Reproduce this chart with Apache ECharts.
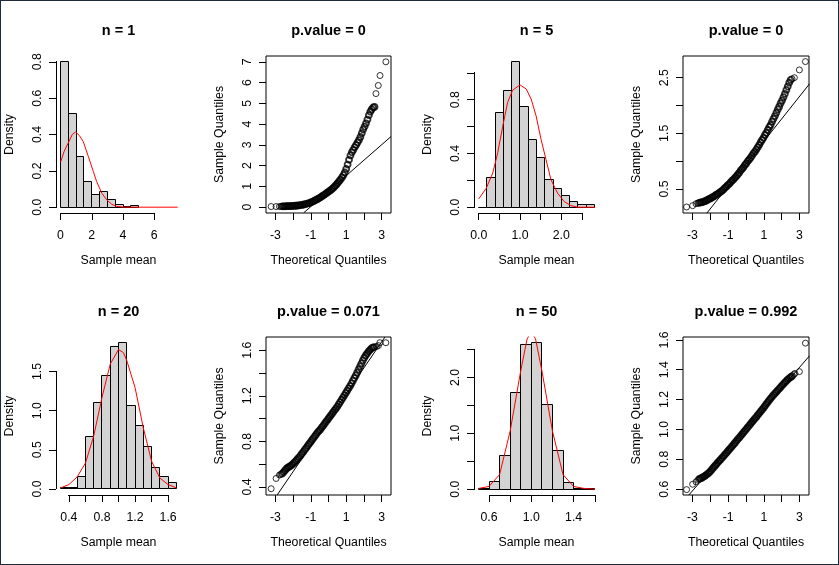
<!DOCTYPE html>
<html>
<head>
<meta charset="utf-8">
<script src="https://cdn.jsdelivr.net/npm/echarts@6/dist/echarts.min.js"></script>
<style>
  html, body { margin: 0; padding: 0; background: #fff; }
  #chart { width: 839px; height: 565px; }
  #frame { position: absolute; left: 0; top: 0; width: 837px; height: 563px; border: 1px solid #1d2b3a; pointer-events: none; }
</style>
</head>
<body>
<div id="chart"></div>
<div id="frame"></div>
<script>
// ---- n = 1 ----
const h1Breaks = [0, 0.5, 1, 1.5, 2, 2.5, 3, 3.5, 4, 4.5, 5];
const h1Density = [0.80, 0.513, 0.281, 0.140, 0.072, 0.084, 0.040, 0.016, 0.006, 0.011];
const c1X = [0, 0.23, 0.49, 0.75, 0.96, 1.2, 1.45, 1.78, 2.10, 2.31, 2.64, 2.96, 3.28, 3.6, 4.0, 5, 7.5];
const c1Y = [0.248, 0.307, 0.353, 0.40, 0.414, 0.395, 0.362, 0.279, 0.196, 0.141, 0.077, 0.040, 0.016, 0.004, 0.001, 0, 0];
const q1Theo = [-3.24, -2.96, -2.77, -2.68,
  -2.6, -2.52, -2.44, -2.36, -2.28, -2.2, -2.12, -2.04, -1.96, -1.88,
  -1.8, -1.72, -1.64, -1.56, -1.48, -1.4, -1.32, -1.24, -1.16, -1.08,
  -1.0, -0.92, -0.84, -0.76, -0.68, -0.6, -0.52, -0.44, -0.36, -0.28,
  -0.2, -0.12, -0.04, 0.04, 0.12, 0.2, 0.28, 0.36, 0.44, 0.52,
  0.6, 0.68, 0.76, 0.84, 0.92, 1.0, 1.08, 1.16, 1.24, 1.32,
  1.4, 1.48, 1.56, 1.64, 1.72, 1.8, 1.88, 1.96, 2.04, 2.12,
  2.2, 2.28, 2.36, 2.44, 2.52, 2.6,
  2.68, 2.81, 2.91, 3.24];
const q1Sample = [0.03, 0.03, 0.03, 0.04,
  0.04, 0.04, 0.04, 0.05, 0.05, 0.05, 0.05, 0.06, 0.06, 0.07,
  0.07, 0.08, 0.09, 0.10, 0.11, 0.13, 0.14, 0.16, 0.18, 0.20,
  0.23, 0.26, 0.29, 0.33, 0.36, 0.40, 0.44, 0.48, 0.53, 0.57,
  0.62, 0.67, 0.72, 0.77, 0.82, 0.88, 0.94, 1.01, 1.08, 1.16,
  1.25, 1.33, 1.43, 1.54, 1.67, 1.84, 2.05, 2.28, 2.49, 2.64,
  2.76, 2.89, 3.0, 3.11, 3.23, 3.38, 3.56, 3.74, 3.88, 4.04,
  4.22, 4.43, 4.60, 4.71, 4.80, 4.83,
  5.47, 5.86, 6.34, 7.0];
const q1LineX = [-1.40, 3.53];
const q1LineY = [-0.27, 3.40];

// ---- n = 5 ----
const h2Breaks = [0, 0.2, 0.4, 0.6, 0.8, 1.0, 1.2, 1.4, 1.6, 1.8, 2.0, 2.2, 2.4, 2.6, 2.8];
const h2Density = [0.0, 0.22, 0.705, 0.865, 1.0875, 0.75, 0.5025, 0.3675, 0.205, 0.1375, 0.09, 0.04, 0.0175, 0.0175];
const c2X = [0, 0.18, 0.34, 0.46, 0.58, 0.70, 0.82, 1.0, 1.15, 1.27, 1.39, 1.51, 1.63, 1.75, 1.91, 2.07, 2.23, 2.40, 2.82];
const c2Y = [0.0625, 0.14, 0.255, 0.405, 0.60, 0.78, 0.87, 0.91, 0.88, 0.805, 0.68, 0.505, 0.355, 0.205, 0.105, 0.0425, 0.0125, 0.0, 0.0];
const q2Theo = [-3.33, -2.99, -2.80, -2.70,
  -2.62, -2.54, -2.46, -2.38, -2.30, -2.22, -2.14, -2.06, -1.98, -1.90,
  -1.82, -1.74, -1.66, -1.58, -1.50, -1.42, -1.34, -1.26, -1.18, -1.10,
  -1.02, -0.94, -0.86, -0.78, -0.70, -0.62, -0.54, -0.46, -0.38, -0.30,
  -0.22, -0.14, -0.06, 0.02, 0.10, 0.18, 0.26, 0.34, 0.42, 0.50,
  0.58, 0.66, 0.74, 0.82, 0.90, 0.98, 1.06, 1.14, 1.22, 1.30,
  1.38, 1.46, 1.54, 1.62, 1.70, 1.78, 1.86, 1.94, 2.02, 2.10,
  2.18, 2.26, 2.34, 2.42, 2.50,
  2.58, 2.71, 2.99, 3.33];
const q2Sample = [0.176, 0.20, 0.235, 0.245,
  0.25, 0.26, 0.26, 0.27, 0.28, 0.29, 0.31, 0.32, 0.33, 0.35,
  0.36, 0.38, 0.40, 0.41, 0.43, 0.45, 0.47, 0.49, 0.52, 0.54,
  0.57, 0.59, 0.62, 0.65, 0.67, 0.70, 0.73, 0.76, 0.79, 0.83,
  0.86, 0.89, 0.93, 0.96, 1.00, 1.03, 1.06, 1.10, 1.14, 1.17,
  1.21, 1.25, 1.29, 1.34, 1.38, 1.42, 1.47, 1.51, 1.56, 1.61,
  1.65, 1.71, 1.76, 1.81, 1.87, 1.93, 1.98, 2.04, 2.09, 2.15,
  2.21, 2.28, 2.34, 2.41, 2.46,
  2.48, 2.50, 2.64, 2.79];
const q2LineX = [-2.19, 3.56];
const q2LineY = [0.068, 2.39];

// ---- n = 20 ----
const h3Breaks = [0.3, 0.4, 0.5, 0.6, 0.7, 0.8, 0.9, 1.0, 1.1, 1.2, 1.3, 1.4, 1.5, 1.6, 1.7];
const h3Density = [0.013, 0.017, 0.154, 0.667, 1.10, 1.453, 1.82, 1.87, 1.064, 0.812, 0.538, 0.274, 0.154, 0.077];
const c3X = [0.3, 0.4, 0.5, 0.6, 0.7, 0.8, 0.9, 1.0, 1.06, 1.1, 1.2, 1.3, 1.4, 1.5, 1.6, 1.7];
const c3Y = [0.013, 0.056, 0.154, 0.33, 0.675, 1.167, 1.594, 1.78, 1.74, 1.64, 1.295, 0.78, 0.355, 0.14, 0.056, 0.013];
const q3Theo = [-3.24, -2.96, -2.77, -2.70,
  -2.62, -2.54, -2.46, -2.38, -2.30, -2.22, -2.14, -2.06, -1.98, -1.90,
  -1.82, -1.74, -1.66, -1.58, -1.50, -1.42, -1.34, -1.26, -1.18, -1.10,
  -1.02, -0.94, -0.86, -0.78, -0.70, -0.62, -0.54, -0.46, -0.38, -0.30,
  -0.22, -0.14, -0.06, 0.02, 0.10, 0.18, 0.26, 0.34, 0.42, 0.50,
  0.58, 0.66, 0.74, 0.82, 0.90, 0.98, 1.06, 1.14, 1.22, 1.30,
  1.38, 1.46, 1.54, 1.62, 1.70, 1.78, 1.86, 1.94, 2.02, 2.10,
  2.18, 2.26, 2.34, 2.42, 2.50, 2.58,
  2.72, 2.82, 2.9, 3.24];
const q3Sample = [0.385, 0.475, 0.505, 0.51,
  0.517, 0.53, 0.545, 0.56, 0.57, 0.578, 0.585, 0.595, 0.607, 0.62,
  0.633, 0.647, 0.66, 0.677, 0.693, 0.71, 0.727, 0.743, 0.76, 0.777,
  0.793, 0.81, 0.827, 0.843, 0.86, 0.877, 0.892, 0.905, 0.922, 0.938,
  0.955, 0.972, 0.988, 1.005, 1.022, 1.038, 1.055, 1.072, 1.088, 1.105,
  1.125, 1.145, 1.165, 1.185, 1.205, 1.225, 1.245, 1.265, 1.285, 1.308,
  1.332, 1.355, 1.378, 1.403, 1.43, 1.457, 1.483, 1.51, 1.533, 1.553,
  1.57, 1.587, 1.602, 1.615, 1.622, 1.627,
  1.632, 1.64, 1.665, 1.665];
const q3LineX = [-2.90, 3.19];
const q3LineY = [0.33, 1.715];

// ---- n = 50 ----
const h4Breaks = [0.5, 0.6, 0.7, 0.8, 0.9, 1.0, 1.1, 1.2, 1.3, 1.4, 1.5, 1.6];
const h4Density = [0.018, 0.138, 0.595, 1.73, 2.595, 2.63, 1.52, 0.69, 0.126, 0.006, 0.018];
const c4X = [0.5, 0.6, 0.7, 0.8, 0.9, 0.96, 1.0, 1.04, 1.1, 1.2, 1.3, 1.4, 1.5, 1.6];
const c4Y = [0.012, 0.048, 0.26, 1.04, 2.12, 2.69, 2.82, 2.69, 2.12, 1.04, 0.26, 0.048, 0.012, 0.0];
const q4Theo = [-3.33, -2.99, -2.80, -2.70,
  -2.62, -2.54, -2.46, -2.38, -2.30, -2.22, -2.14, -2.06, -1.98, -1.90,
  -1.82, -1.74, -1.66, -1.58, -1.50, -1.42, -1.34, -1.26, -1.18, -1.10,
  -1.02, -0.94, -0.86, -0.78, -0.70, -0.62, -0.54, -0.46, -0.38, -0.30,
  -0.22, -0.14, -0.06, 0.02, 0.10, 0.18, 0.26, 0.34, 0.42, 0.50,
  0.58, 0.66, 0.74, 0.82, 0.90, 0.98, 1.06, 1.14, 1.22, 1.30,
  1.38, 1.46, 1.54, 1.62, 1.70, 1.78, 1.86, 1.94, 2.02, 2.10,
  2.18, 2.26, 2.34, 2.42, 2.50, 2.58,
  2.68, 2.74, 2.99, 3.33];
const q4Sample = [0.597, 0.633, 0.649, 0.66,
  0.668, 0.672, 0.677, 0.683, 0.689, 0.696, 0.704, 0.712, 0.722, 0.734,
  0.745, 0.756, 0.767, 0.778, 0.789, 0.799, 0.81, 0.821, 0.832, 0.843,
  0.854, 0.865, 0.876, 0.887, 0.899, 0.91, 0.922, 0.934, 0.945, 0.956,
  0.968, 0.98, 0.991, 1.003, 1.014, 1.026, 1.038, 1.05, 1.061, 1.073,
  1.084, 1.096, 1.108, 1.12, 1.132, 1.144, 1.157, 1.17, 1.182, 1.195,
  1.207, 1.219, 1.23, 1.241, 1.251, 1.262, 1.273, 1.283, 1.294, 1.305,
  1.315, 1.325, 1.334, 1.342, 1.35, 1.357,
  1.368, 1.375, 1.387, 1.578];
const q4LineX = [-3.20, 3.56];
const q4LineY = [0.561, 1.493];

// ---- ticks ----
const qqXTicks = [-3, -2, -1, 0, 1, 2, 3];
const qqXLabels = ['-3', '-1', '1', '3'];
const p1XTicks = [0, 2, 4, 6], p1XLabels = ['0', '2', '4', '6'];
const p1YTicks = [0, 0.2, 0.4, 0.6, 0.8], p1YLabels = ['0.0', '0.2', '0.4', '0.6', '0.8'];
const p2YTicks = [0, 1, 2, 3, 4, 5, 6, 7], p2YLabels = ['0', '1', '2', '3', '4', '5', '6', '7'];
const p3XTicks = [0, 0.5, 1, 1.5, 2, 2.5], p3XLabels = ['0.0', '1.0', '2.0'];
const p3YTicks = [0, 0.2, 0.4, 0.6, 0.8, 1.0], p3YLabels = ['0.0', '0.4', '0.8'];
const p4YTicks = [0.5, 1, 1.5, 2, 2.5], p4YLabels = ['0.5', '1.5', '2.5'];
const p5XTicks = [0.4, 0.6, 0.8, 1.0, 1.2, 1.4, 1.6], p5XLabels = ['0.4', '0.8', '1.2', '1.6'];
const p5YTicks = [0, 0.5, 1.0, 1.5], p5YLabels = ['0.0', '0.5', '1.0', '1.5'];
const p6YTicks = [0.4, 0.6, 0.8, 1.0, 1.2, 1.4, 1.6], p6YLabels = ['0.4', '0.8', '1.2', '1.6'];
const p7XTicks = [0.6, 0.8, 1.0, 1.2, 1.4, 1.6], p7XLabels = ['0.6', '1.0', '1.4'];
const p7YTicks = [0, 0.5, 1.0, 1.5, 2.0, 2.5], p7YLabels = ['0.0', '1.0', '2.0'];
const p8YTicks = [0.6, 0.8, 1.0, 1.2, 1.4, 1.6], p8YLabels = ['0.6', '0.8', '1.0', '1.2', '1.4', '1.6'];

const FONT = '"Liberation Sans", Arial, sans-serif';
const colLeft = [56, 266, 474, 683];
const colWidth = [125, 125, 125, 126];
const rowTop = [56, 337];
const rowHeight = [157, 158];
const TAIL = 4; // lone circles at each end of a Q-Q cloud, drawn thinner

const panels = [
  { kind: 'hist', title: 'n = 1', breaks: h1Breaks, dens: h1Density, cx: c1X, cy: c1Y,
    xr: [-0.29, 7.71], yr: [-0.032, 0.832], xt: p1XTicks, xl: p1XLabels, yt: p1YTicks, yl: p1YLabels },
  { kind: 'qq', title: 'p.value = 0', tx: q1Theo, sy: q1Sample, lx: q1LineX, ly: q1LineY,
    xr: [-3.53, 3.53], yr: [-0.28, 7.28], xt: qqXTicks, xl: qqXLabels, yt: p2YTicks, yl: p2YLabels },
  { kind: 'hist', title: 'n = 5', breaks: h2Breaks, dens: h2Density, cx: c2X, cy: c2Y,
    xr: [-0.115, 2.915], yr: [-0.043, 1.125], xt: p3XTicks, xl: p3XLabels, yt: p3YTicks, yl: p3YLabels },
  { kind: 'qq', title: 'p.value = 0', tx: q2Theo, sy: q2Sample, lx: q2LineX, ly: q2LineY,
    xr: [-3.53, 3.53], yr: [0.068, 2.89], xt: qqXTicks, xl: qqXLabels, yt: p4YTicks, yl: p4YLabels },
  { kind: 'hist', title: 'n = 20', breaks: h3Breaks, dens: h3Density, cx: c3X, cy: c3Y,
    xr: [0.244, 1.756], yr: [-0.077, 1.94], xt: p5XTicks, xl: p5XLabels, yt: p5YTicks, yl: p5YLabels },
  { kind: 'qq', title: 'p.value = 0.071', tx: q3Theo, sy: q3Sample, lx: q3LineX, ly: q3LineY,
    xr: [-3.53, 3.53], yr: [0.33, 1.715], xt: qqXTicks, xl: qqXLabels, yt: p6YTicks, yl: p6YLabels },
  { kind: 'hist', title: 'n = 50', breaks: h4Breaks, dens: h4Density, cx: c4X, cy: c4Y,
    xr: [0.458, 1.64], yr: [-0.105, 2.725], xt: p7XTicks, xl: p7XLabels, yt: p7YTicks, yl: p7YLabels },
  { kind: 'qq', title: 'p.value = 0.992', tx: q4Theo, sy: q4Sample, lx: q4LineX, ly: q4LineY,
    xr: [-3.53, 3.53], yr: [0.561, 1.619], xt: qqXTicks, xl: qqXLabels, yt: p8YTicks, yl: p8YLabels }
];

const textStyle = { color: '#000', fontSize: 12.3, fontFamily: FONT };
const snap = v => Math.floor(v) + 0.5;

function labelFormatter(labels) {
  return v => {
    const hit = labels.find(s => Math.abs(Number(s) - v) < 1e-9);
    return hit === undefined ? '' : hit;
  };
}

const grids = [], xAxes = [], yAxes = [], series = [], graphics = [];

panels.forEach((p, i) => {
  const col = i % 4, row = Math.floor(i / 4);
  const isQQ = p.kind === 'qq';
  grids.push({
    left: colLeft[col], top: rowTop[row], width: colWidth[col], height: rowHeight[row],
    show: isQQ, borderColor: '#000', borderWidth: 1, backgroundColor: 'transparent',
    containLabel: false, outerBoundsMode: 'none'
  });
  xAxes.push({
    gridIndex: i, type: 'value', min: p.xr[0], max: p.xr[1],
    axisLine: { show: false, onZero: false }, splitLine: { show: false },
    axisTick: { show: true, inside: false, length: 7, customValues: p.xt, lineStyle: { color: '#000', width: 1 } },
    axisLabel: Object.assign({ customValues: p.xl.map(Number), formatter: labelFormatter(p.xl), margin: 16.5 }, textStyle),
    name: isQQ ? 'Theoretical Quantiles' : 'Sample mean', nameLocation: 'middle', nameGap: 41.5,
    nameTextStyle: textStyle
  });
  yAxes.push({
    gridIndex: i, type: 'value', min: p.yr[0], max: p.yr[1],
    axisLine: { show: false, onZero: false }, splitLine: { show: false },
    axisTick: { show: true, inside: false, length: 7, customValues: p.yt, lineStyle: { color: '#000', width: 1 } },
    axisLabel: Object.assign({ customValues: p.yl.map(Number), formatter: labelFormatter(p.yl), margin: 12, rotate: 90 }, textStyle),
    name: isQQ ? 'Sample Quantiles' : 'Density', nameLocation: 'middle', nameGap: 40, nameRotate: 90,
    nameTextStyle: textStyle
  });

  graphics.push({
    type: 'text', x: colLeft[col] + colWidth[col] / 2, y: rowTop[row] - 25.5, silent: true,
    style: { text: p.title, fill: '#000', font: 'bold 14.5px ' + FONT,
      align: 'center', verticalAlign: 'middle', textAlign: 'center', textVerticalAlign: 'middle' }
  });

  if (isQQ) {
    const pts = p.tx.map((x, k) => [x, p.sy[k]]);
    const n = pts.length;
    // dense body: overlapping circles read as a solid band, so stroke them heavier
    series.push({
      type: 'scatter', xAxisIndex: i, yAxisIndex: i, symbol: 'circle', symbolSize: 6,
      data: pts.slice(TAIL, n - TAIL),
      itemStyle: { color: 'rgba(0,0,0,0)', borderColor: '#000', borderWidth: 1.8 },
      silent: true, z: 3
    });
    series.push({
      type: 'scatter', xAxisIndex: i, yAxisIndex: i, symbol: 'circle', symbolSize: 6,
      data: pts.slice(0, TAIL).concat(pts.slice(n - TAIL)),
      itemStyle: { color: 'rgba(0,0,0,0)', borderColor: '#000', borderWidth: 1 },
      silent: true, z: 3
    });
    series.push({
      type: 'line', xAxisIndex: i, yAxisIndex: i, showSymbol: false, clip: true,
      data: p.lx.map((x, k) => [x, p.ly[k]]),
      lineStyle: { color: '#000', width: 1 }, silent: true, z: 4
    });
  } else {
    series.push({
      type: 'custom', xAxisIndex: i, yAxisIndex: i, silent: true, z: 2,
      data: p.dens.map((d, k) => [p.breaks[k], p.breaks[k + 1], d]),
      encode: { x: [0, 1], y: 2 },
      renderItem: (params, api) => {
        const a = api.coord([api.value(0), api.value(2)]);
        const b = api.coord([api.value(1), 0]);
        const x0 = snap(a[0]), x1 = snap(b[0]), y0 = snap(a[1]), y1 = snap(b[1]);
        return {
          type: 'rect', shape: { x: x0, y: y0, width: x1 - x0, height: y1 - y0 },
          style: { fill: '#d3d3d3', stroke: '#000', lineWidth: 1 }
        };
      }
    });
    series.push({
      type: 'line', xAxisIndex: i, yAxisIndex: i, showSymbol: false, clip: true,
      data: p.cx.map((x, k) => [x, p.cy[k]]),
      lineStyle: { color: '#ff0000', width: 1 }, silent: true, z: 4
    });
    // R style axis lines: only from the first to the last tick
    series.push({
      type: 'custom', xAxisIndex: i, yAxisIndex: i, silent: true, z: 5, clip: false,
      data: [[p.xr[0], p.yr[0]]],
      renderItem: (params, api) => {
        const a = api.coord([p.xt[0], p.yr[0]]);
        const b = api.coord([p.xt[p.xt.length - 1], p.yr[0]]);
        const c = api.coord([p.xr[0], p.yt[0]]);
        const d = api.coord([p.xr[0], p.yt[p.yt.length - 1]]);
        const st = { stroke: '#000', lineWidth: 1 };
        return {
          type: 'group', children: [
            { type: 'line', shape: { x1: snap(a[0]) - 0.5, y1: snap(a[1]), x2: snap(b[0]) + 0.5, y2: snap(a[1]) }, style: st },
            { type: 'line', shape: { x1: snap(c[0]), y1: snap(c[1]) + 0.5, x2: snap(c[0]), y2: snap(d[1]) - 0.5 }, style: st }
          ]
        };
      }
    });
  }
});

const chart = echarts.init(document.getElementById('chart'));
chart.setOption({
  animation: false,
  backgroundColor: '#fff',
  grid: grids,
  xAxis: xAxes,
  yAxis: yAxes,
  series: series,
  graphic: graphics
});
</script>
</body>
</html>
